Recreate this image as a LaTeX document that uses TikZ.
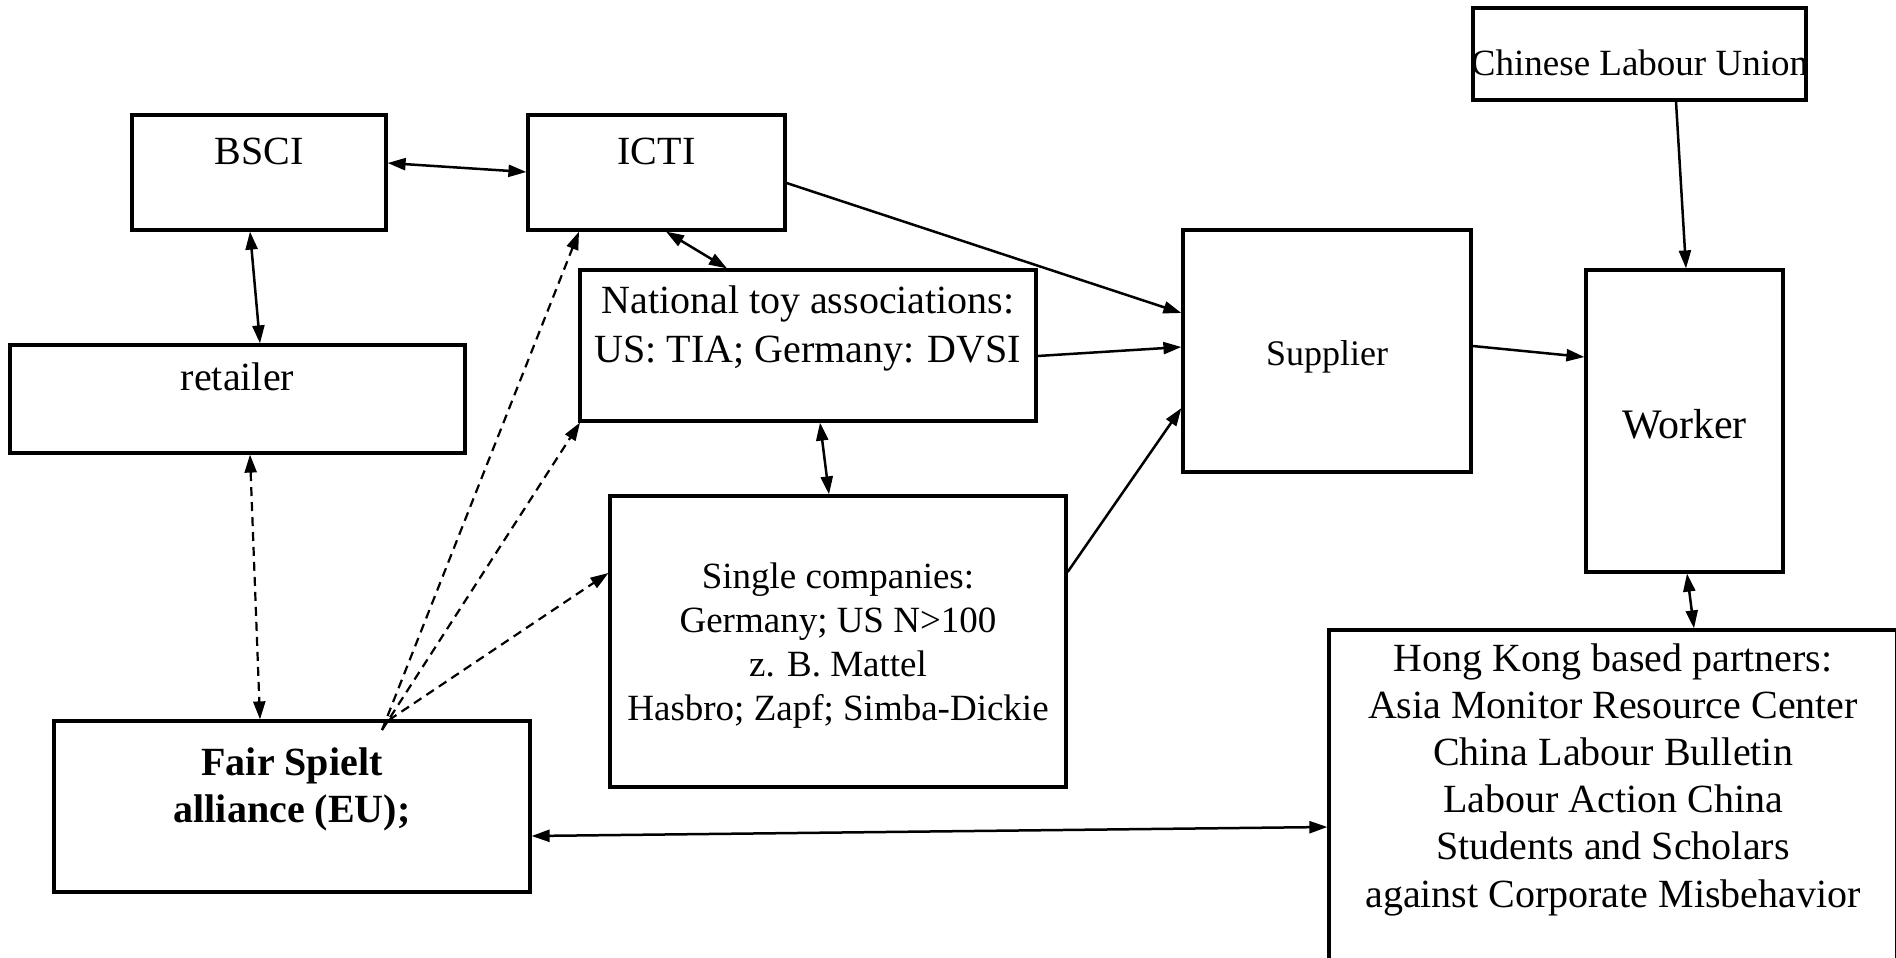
\documentclass[tikz,border=0pt]{standalone}
\usepackage{fontspec}
\setmainfont{Liberation Serif}
\usetikzlibrary{arrows.meta}
\newcommand\mlines[1]{\begin{tabular}[t]{@{}c@{}}#1\end{tabular}}
\begin{document}
\begin{tikzpicture}[x=1pt,y=-1pt,
  box/.style={draw, line width=3.2pt, rectangle, inner sep=0pt},
  lbl/.style={anchor=base, inner sep=0pt, font=\fontsize{40pt}{47pt}\selectfont},
  conn/.style={line width=2.5pt},
  dconn/.style={line width=2.2pt, dash pattern=on 9pt off 6pt},
  one/.style={-{Triangle[length=18pt,width=12pt]}},
  two/.style={{Triangle[length=18pt,width=12pt]}-{Triangle[length=18pt,width=12pt]}}]
\useasboundingbox (0,0) rectangle (1896,958);
\fill[white] (0,0) rectangle (1896,958);
\clip (0,0) rectangle (1896,958);

% boxes
\node[box, minimum width=254pt, minimum height=115pt] (bsci) at (259,172.5) {};
\node[box, minimum width=257pt, minimum height=115pt] (icti) at (656.5,172.5) {};
\node[box, minimum width=333pt, minimum height=92pt] (clu) at (1639.5,54) {};
\node[box, minimum width=455pt, minimum height=108pt] (retailer) at (237.5,399) {};
\node[box, minimum width=456pt, minimum height=151pt] (nat) at (808,345.5) {};
\node[box, minimum width=288pt, minimum height=242pt] (sup) at (1327,351) {};
\node[box, minimum width=197pt, minimum height=302pt] (worker) at (1684.5,421) {};
\node[box, minimum width=456pt, minimum height=291pt] (single) at (838,641.5) {};
\node[box, minimum width=476pt, minimum height=171pt] (fair) at (292,806.5) {};
\node[box, minimum width=568pt, minimum height=380pt] (hk) at (1613,820) {};

% texts
\node[lbl] (bsci-t) at (259,164) {BSCI};
\node[lbl] (icti-t) at (656.5,164) {ICTI};
\node[lbl, font=\fontsize{37pt}{44pt}\selectfont] (clu-t) at (1639.5,75) {Chinese Labour Union};
\node[lbl] (ret-t) at (237.5,390) {retailer};
\node[lbl, font=\fontsize{40pt}{49pt}\selectfont] (nat-t) at (808,313) {\mlines{National toy associations:\\US: TIA; Germany: DVSI}};
\node[lbl, font=\fontsize{36pt}{43pt}\selectfont] (sup-t) at (1327,365) {Supplier};
\node[lbl, font=\fontsize{42pt}{50pt}\selectfont] (wor-t) at (1684.5,438) {Worker};
\node[lbl, font=\fontsize{37pt}{44pt}\selectfont] (sing-t) at (838,588) {\mlines{Single companies:\\Germany; US N>100\\z. B. Mattel\\Hasbro; Zapf; Simba-Dickie}};
\node[lbl, font=\fontsize{40pt}{47pt}\selectfont\bfseries] (fair-t) at (292,775) {\mlines{Fair Spielt\\alliance (EU);}};
\node[lbl, font=\fontsize{40pt}{47.2pt}\selectfont] (hk-t) at (1613,671) {\mlines{Hong Kong based partners:\\Asia Monitor Resource Center\\China Labour Bulletin\\Labour Action China\\Students and Scholars\\against Corporate Misbehavior}};

% solid connectors
\draw[conn,two] (bsci.east |- 0,163) -- (icti.west |- 0,172);
\draw[conn,two] (bsci.south -| 250,0) -- (retailer.north -| 260,0);
\draw[conn,two] (icti.south -| 666,0) -- (nat.north -| 727,0);
\draw[conn,one] (icti.east |- 0,183) -- (sup.west |- 0,313);
\draw[conn,one] (nat.east |- 0,356) -- (sup.west |- 0,347);
\draw[conn,two] (nat.south -| 820,0) -- (single.north -| 829,0);
\draw[conn,one] (single.east |- 0,572) -- (sup.west |- 0,408);
\draw[conn,one] (sup.east |- 0,346) -- (worker.west |- 0,357);
\draw[conn,one] (clu.south -| 1676,0) -- (worker.north -| 1686,0);
\draw[conn,two] (worker.south -| 1687,0) -- (hk.north -| 1694,0);
\draw[conn,two] (fair.east |- 0,836) -- (hk.west |- 0,827);

% dashed connectors
\coordinate (fs) at (382,730);
\coordinate (fs2) at (389,720);
\draw[dconn,two] (retailer.south -| 250,0) -- (fair.north -| 260,0);
\draw[dconn,one] (fs) -- (icti.south -| 579,0);
\draw[dconn,one] (fs) -- (nat.south -| 580,0);
\draw[dconn,one] (fs2) -- (single.west |- 0,573);
\end{tikzpicture}
\end{document}
